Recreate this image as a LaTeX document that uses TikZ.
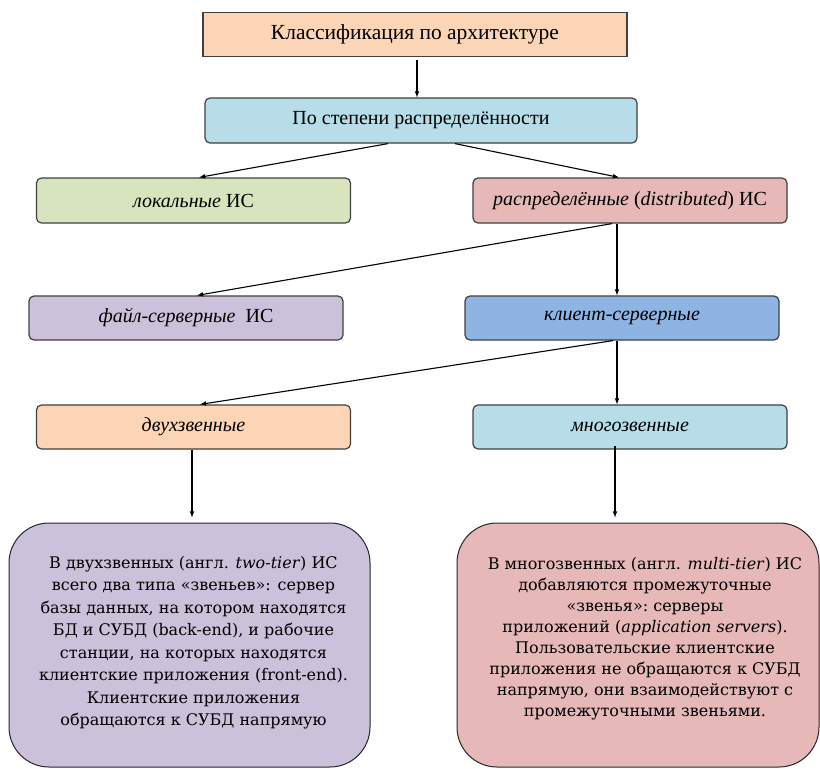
\documentclass[tikz,border=0pt]{standalone}
\usepackage{fontspec}
\setmainfont{Liberation Serif}
\newfontfamily\bigfont{DejaVu Serif}
\usetikzlibrary{positioning}

\definecolor{peach}{HTML}{FBD5B5}
\definecolor{skyblue}{HTML}{B7DDE8}
\definecolor{sage}{HTML}{D7E4BD}
\definecolor{rose}{HTML}{E6B9B8}
\definecolor{lilac}{HTML}{CCC1DA}
\definecolor{steel}{HTML}{8EB4E3}
\definecolor{edge}{HTML}{404040}

\tikzset{
  kind/.style={draw=edge, line width=1.2pt, rounded corners=5pt,
    minimum width=314pt, minimum height=44pt, inner sep=0pt,
    font=\fontsize{20}{24}\selectfont},
  note/.style={draw=black!85, line width=1pt, rounded corners=40pt,
    minimum width=361pt, minimum height=244pt, inner sep=0pt,
    align=center, font=\bigfont\fontsize{16}{22.5}\selectfont},
}

\begin{document}
\begin{tikzpicture}[x=1pt, y=-1pt, >=latex, line width=1.1pt]

  \useasboundingbox (0,0) rectangle (820,769);

  % levels of the classification
  \node[kind, rounded corners=0pt, fill=peach, minimum width=424pt,
    font=\fontsize{21.5}{24}\selectfont]
    (arch) at (415,34.7) {Классификация по архитектуре};
  \node[kind, fill=skyblue, minimum width=432pt, minimum height=45pt]
    (distr) at (421,120.5) {По степени распределённости};

  \node[kind, fill=sage, minimum height=45pt] (local) at (193.5,200.5)
    {\textit{локальные} ИС};
  \node[kind, fill=rose, minimum height=45pt] (dist) at (630,200.5)
    {\textit{распределённые} (\textit{distributed}) ИС};

  \node[kind, fill=lilac] (fileserv) at (186,318) {\textit{файл-серверные}\ \ ИС};
  \node[kind, fill=steel] (clserv) at (622,318) {\textit{клиент-серверные}};

  \node[kind, fill=peach] (twotier) at (193.5,427) {\textit{двухзвенные}};
  \node[kind, fill=skyblue] (multitier) at (630,427) {\textit{многозвенные}};

  % descriptions
  \node[note, fill=lilac] (twonote) at (189.5,645) {%
    \hspace{8pt}В двухзвенных (англ. \textit{two-tier}) ИС\\
    \hspace{8pt}всего два типа «звеньев»: сервер\\
    \hspace{8pt}базы данных, на котором находятся\\
    \hspace{8pt}БД и СУБД (back-end), и рабочие\\
    \hspace{8pt}станции, на которых находятся\\
    \hspace{8pt}клиентские приложения (front-end).\\
    \hspace{8pt}Клиентские приложения\\
    \hspace{8pt}обращаются к СУБД напрямую\\[-14.5pt]};
  \node[note, fill=rose, minimum width=362pt,
    font=\bigfont\fontsize{16}{21}\selectfont] (multinote) at (638,645) {%
    \hspace{14pt}В многозвенных (англ. \textit{multi-tier}) ИС\\
    \hspace{14pt}добавляются промежуточные\\
    \hspace{14pt}«звенья»:\ серверы\\
    \hspace{14pt}приложений (\textit{application servers}).\\
    \hspace{14pt}Пользовательские клиентские\\
    \hspace{14pt}приложения не обращаются к СУБД\\
    \hspace{14pt}напрямую, они взаимодействуют с\\
    \hspace{14pt}промежуточными звеньями.\\[-5pt]};

  % arrows
  \draw[->] ([xshift=2pt,yshift=-3pt]arch.south) -- ([xshift=2pt]arch.south |- distr.north);
  \draw[->] ([xshift=-33pt]distr.south) -- ([xshift=5.5pt]local.north);
  \draw[->] ([xshift=34pt]distr.south) -- ([xshift=-11pt]dist.north);
  \draw[->] ([xshift=-18pt]dist.south) -- ([xshift=11pt]fileserv.north);
  \draw[->] ([xshift=-13pt]dist.south) -- ([xshift=-13pt]dist.south |- clserv.north);
  \draw[->] ([xshift=-9pt]clserv.south) -- ([xshift=6.5pt]twotier.north);
  \draw[->] ([xshift=-5pt]clserv.south) -- ([xshift=-5pt]clserv.south |- multitier.north);
  \draw[->, shorten >=5pt] ([xshift=-1.5pt]twotier.south) -- ([xshift=-1.5pt]twotier.south |- twonote.north);
  \draw[->, shorten >=5pt] ([xshift=-15pt,yshift=4pt]multitier.south) -- ([xshift=-15pt]multitier.south |- multinote.north);

\end{tikzpicture}
\end{document}
